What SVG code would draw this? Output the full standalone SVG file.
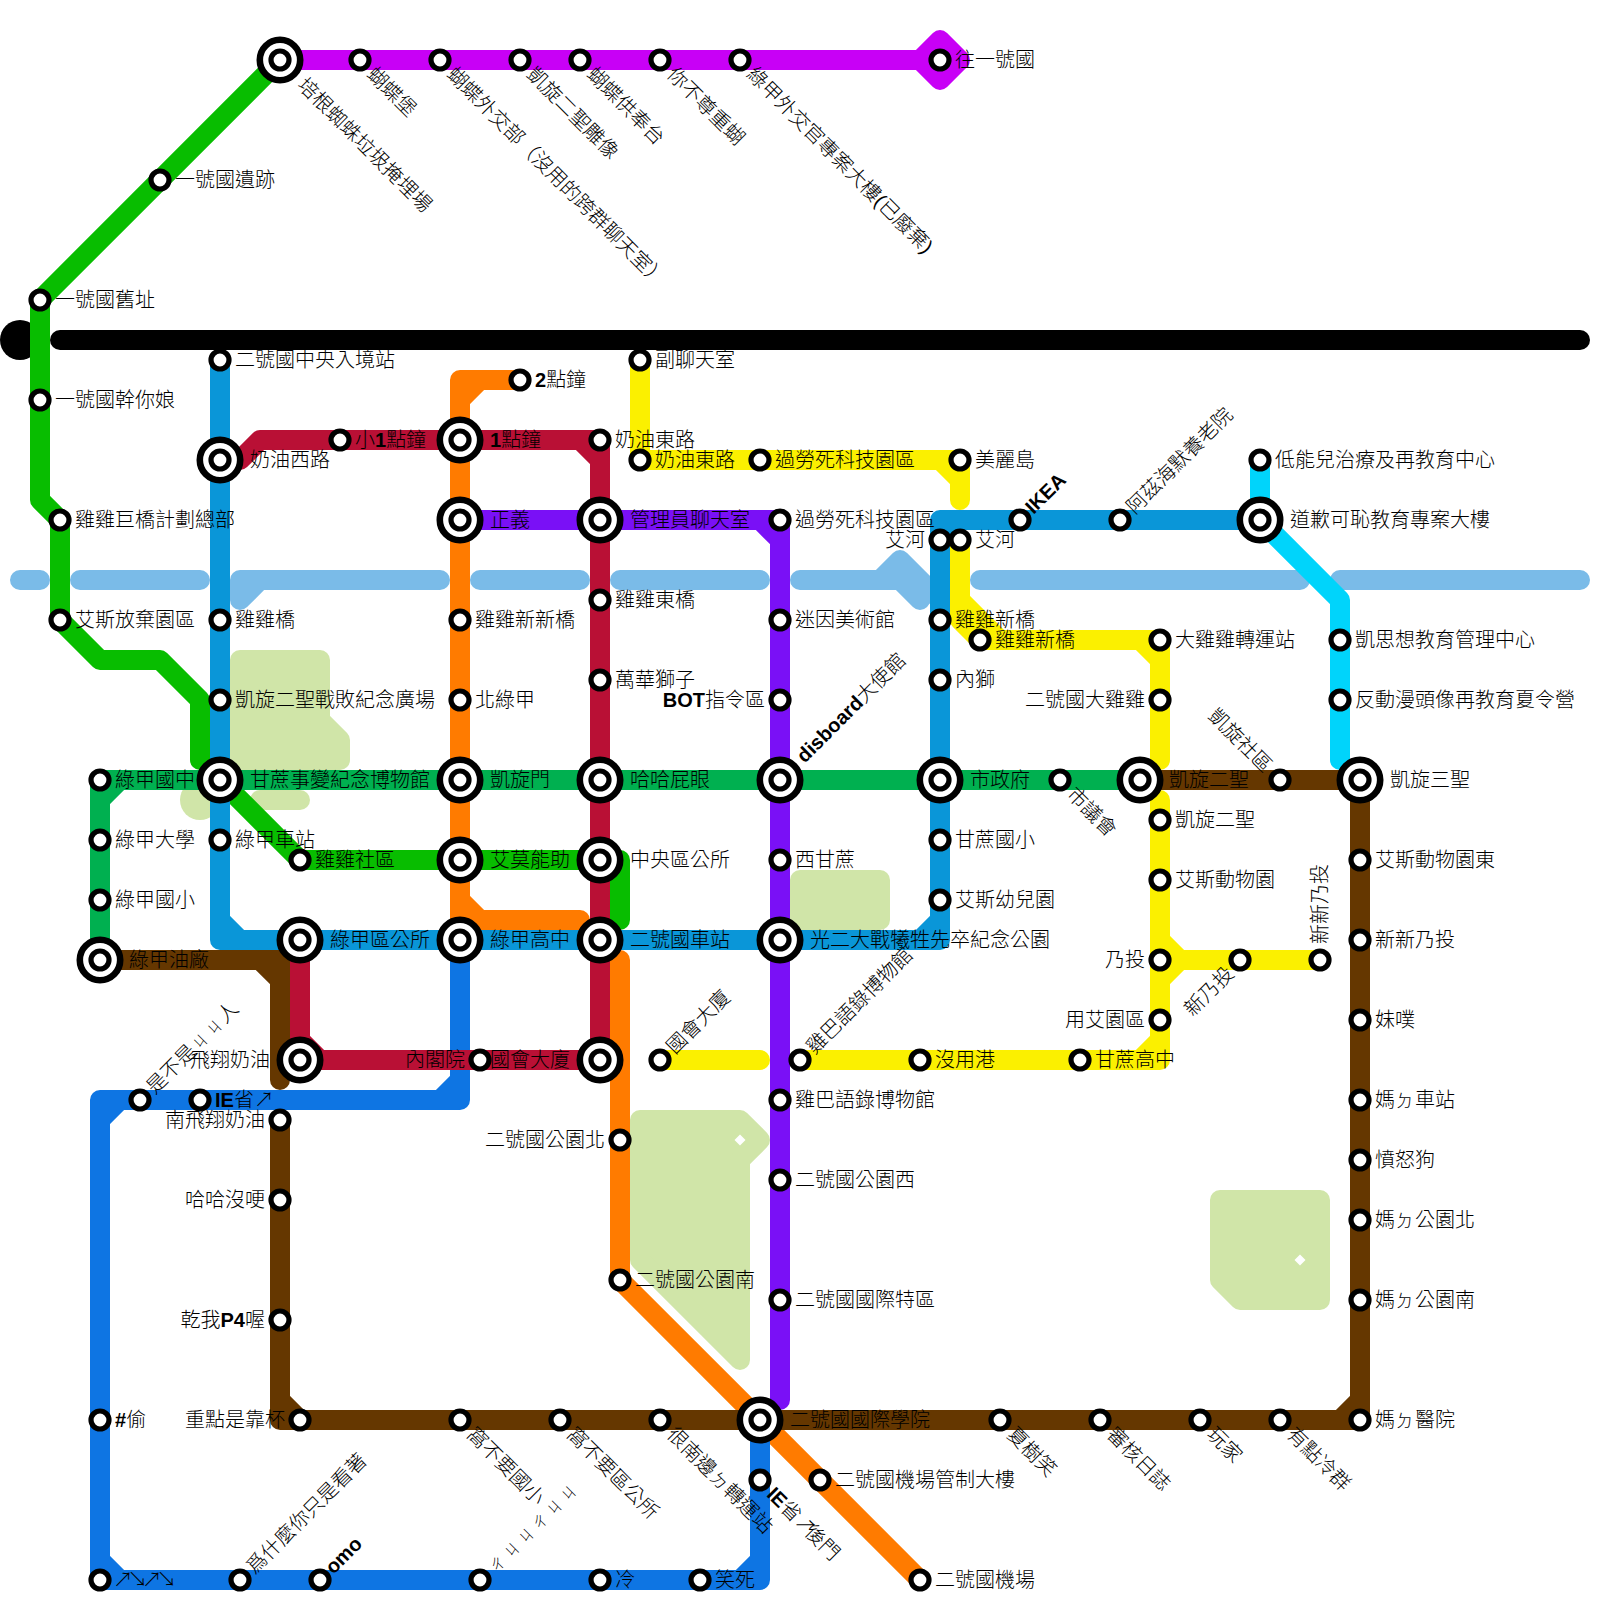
<svg xmlns="http://www.w3.org/2000/svg" width="1600" height="1600" viewBox="0 0 1600 1600">
<style>
text{font-family:"Liberation Sans","Noto Sans CJK TC",sans-serif;font-size:20px;font-weight:300;fill:#000}
.e{text-anchor:end}
.b{font-weight:bold}
.a{letter-spacing:-5.500px}
.l{fill:none;stroke-width:20;stroke-linecap:round;stroke-linejoin:round}
.p{fill:#d0e5a8;stroke:#d0e5a8;stroke-width:20;stroke-linejoin:round}
.o{fill:#fff;stroke:#000;stroke-width:6.6}
.r{fill:#fff;stroke:#000;stroke-width:5.2}
.z{font-size:15px}
.d{font-size:17px}
</style>
<defs>
<g id="s"><circle r="9" class="r"/></g>
<g id="x"><circle r="20.2" class="o"/><circle r="9" class="r"/></g>
</defs>
<rect width="1600" height="1600" fill="#fff"/>
<g id="parks">
<path class="p" d="M240,660H320V720L340,740V760H240Z"/>
<circle cx="200" cy="800" r="20" fill="#d0e5a8"/>
<path class="l" stroke="#d0e5a8" d="M260,800H300"/>
<path class="p" d="M800,880H880V920H800Z"/>
<path class="p" d="M640,1120H740L760,1140L740,1160V1360L640,1260Z"/>
<path fill="#fff" d="M740,1134.500L745.500,1140L740,1145.500L734.500,1140Z"/>
<path class="p" d="M1220,1200H1320V1300H1240L1220,1280Z"/>
<path fill="#fff" d="M1300,1254.500L1305.500,1260L1300,1265.500L1294.500,1260Z"/>
</g>
<g id="river" class="l" stroke="#7abbe8">
<path d="M20,580H40M80,580H200M240,600L260,580M240,600V580H440M480,580H580M620,580H760M800,580H900L920,600M880,580L900,560L940,600M980,580H1300M1340,580H1580"/>
</g>
<g id="connectors" class="l">
<circle cx="20" cy="340" r="20" fill="#000"/>
<path stroke="#000" d="M60,340H1580"/>
<path stroke="#c800f6" d="M280,60H940M940,40L960,60L940,80L920,60Z"/>
<path stroke="#08bd00" d="M280,60L40,300V500L60,520V620L100,660H160L200,700V760H220V780L300,860H620V920H600"/>
<path stroke="#00b050" d="M100,960V800L120,780H1140M100,810V780H130"/>
<path stroke="#ff7b00" d="M520,380H480L460,400V900L480,920H580M490,380H460V410M460,890V920H490M550,920H580V930M620,960V1280L920,1580"/>
<path stroke="#0a96d8" d="M220,360V920L240,940H920L940,920V540L960,520H1260M220,900V940H260M900,940H940V900M940,540V520H970"/>
<path stroke="#0e75e3" d="M460,940V1080L440,1100H120L100,1120V1560L120,1580H740L760,1560V1420M460,1070V1100H430M130,1100H100V1130M100,1550V1580H130M730,1580H760V1550"/>
<path stroke="#653700" d="M100,960H260L280,980V1080M250,960H280V990M280,1120V1400L300,1420H1340L1360,1400V780M280,1390V1420H310M1330,1420H1360V1390M1140,780H1360"/>
<path stroke="#b91035" d="M220,460H240L260,440H580L600,460V1060H320L300,1040V940M570,440H600V470M300,1030V1060H330"/>
<path stroke="#7a10f6" d="M460,520H760L780,540V1400M750,520H780V550"/>
<path stroke="#fbf000" d="M640,360V460H940L960,480V500M930,460H960V490M960,540V620L980,640H1140L1160,660V760M960,600L1000,640M1130,640H1160V670M1160,800V1040L1140,1060H800M1160,1030V1060H1130M1160,940L1180,960H1320M1180,960L1160,980M660,1060H760"/>
<path stroke="#00d4fb" d="M1260,460V520L1340,600V760"/>
</g>
<g id="nodes">
<g id="n1"><use href="#x" x="280" y="60"/><text transform="translate(280,60) rotate(45)" x="30" y="7">培根蜘蛛垃圾掩埋場</text></g>
<g id="n2"><use href="#s" x="360" y="60"/><text transform="translate(360,60) rotate(45)" x="15" y="7">蝴蝶堡</text></g>
<g id="n3"><use href="#s" x="440" y="60"/><text transform="translate(440,60) rotate(45)" x="15" y="7">蝴蝶外交部（沒用的跨群聊天室）</text></g>
<g id="n4"><use href="#s" x="520" y="60"/><text transform="translate(520,60) rotate(45)" x="15" y="7">凱旋二聖雕像</text></g>
<g id="n5"><use href="#s" x="580" y="60"/><text transform="translate(580,60) rotate(45)" x="15" y="7">蝴蝶供奉台</text></g>
<g id="n6"><use href="#s" x="660" y="60"/><text transform="translate(660,60) rotate(45)" x="15" y="7">你不尊重蝴</text></g>
<g id="n7"><use href="#s" x="740" y="60"/><text transform="translate(740,60) rotate(45)" x="15" y="7">綠甲外交官專案大樓(已廢棄)</text></g>
<g id="n8"><use href="#s" x="940" y="60"/><text x="955" y="67">往一號國</text></g>
<g id="n9"><use href="#s" x="160" y="180"/><text x="175" y="187">一號國遺跡</text></g>
<g id="n10"><use href="#s" x="40" y="300"/><text x="55" y="307">一號國舊址</text></g>
<g id="n11"><use href="#s" x="40" y="400"/><text x="55" y="407">一號國幹你娘</text></g>
<g id="n12"><use href="#s" x="60" y="520"/><text x="75" y="527">雞雞巨橋計劃總部</text></g>
<g id="n13"><use href="#s" x="60" y="620"/><text x="75" y="627">艾斯放棄園區</text></g>
<g id="n14"><use href="#s" x="220" y="360"/><text x="235" y="367">二號國中央入境站</text></g>
<g id="n15"><use href="#x" x="220" y="460"/><text x="250" y="467">奶油西路</text></g>
<g id="n16"><use href="#s" x="340" y="440"/><text x="355" y="447">小<tspan class="b">1</tspan>點鐘</text></g>
<g id="n17"><use href="#x" x="460" y="440"/><text x="490" y="447"><tspan class="b">1</tspan>點鐘</text></g>
<g id="n18"><use href="#s" x="520" y="380"/><text x="535" y="387"><tspan class="b">2</tspan>點鐘</text></g>
<g id="n19"><use href="#s" x="640" y="360"/><text x="655" y="367">副聊天室</text></g>
<g id="n20"><use href="#s" x="600" y="440"/><text x="615" y="447">奶油東路</text></g>
<g id="n21"><use href="#s" x="640" y="460"/><text x="655" y="467">奶油東路</text></g>
<g id="n22"><use href="#s" x="760" y="460"/><text x="775" y="467">過勞死科技園區</text></g>
<g id="n23"><use href="#s" x="960" y="460"/><text x="975" y="467">美麗島</text></g>
<g id="n24"><use href="#x" x="460" y="520"/><text x="490" y="527">正義</text></g>
<g id="n25"><use href="#x" x="600" y="520"/><text x="630" y="527">管理員聊天室</text></g>
<g id="n26"><use href="#s" x="780" y="520"/><text x="795" y="527">過勞死科技園區</text></g>
<g id="n27"><use href="#s" x="940" y="540"/><text class="e" x="925" y="547">艾河</text></g>
<g id="n28"><use href="#s" x="960" y="540"/><text x="975" y="547">艾河</text></g>
<g id="n29"><use href="#s" x="1020" y="520"/><text class="b" transform="translate(1020,520) rotate(-45)" x="13" y="6">IKEA</text></g>
<g id="n30"><use href="#s" x="1120" y="520"/><text transform="translate(1120,520) rotate(-45)" x="14" y="7">阿茲海默養老院</text></g>
<g id="n31"><use href="#x" x="1260" y="520"/><text x="1290" y="527">道歉可恥教育專案大樓</text></g>
<g id="n32"><use href="#s" x="1260" y="460"/><text x="1275" y="467">低能兒治療及再教育中心</text></g>
<g id="n33"><use href="#s" x="940" y="620"/><text x="955" y="627">雞雞新橋</text></g>
<g id="n34"><use href="#s" x="980" y="640"/><text x="995" y="647">雞雞新橋</text></g>
<g id="n35"><use href="#s" x="1160" y="640"/><text x="1175" y="647">大雞雞轉運站</text></g>
<g id="n36"><use href="#s" x="1340" y="640"/><text x="1355" y="647">凱思想教育管理中心</text></g>
<g id="n37"><use href="#s" x="1340" y="700"/><text x="1355" y="707">反動漫頭像再教育夏令營</text></g>
<g id="n38"><use href="#s" x="940" y="680"/><text x="955" y="687">內獅</text></g>
<g id="n39"><use href="#s" x="1160" y="700"/><text class="e" x="1145" y="707">二號國大雞雞</text></g>
<g id="n40"><use href="#s" x="780" y="620"/><text x="795" y="627">迷因美術館</text></g>
<g id="n41"><use href="#s" x="780" y="700"/><text class="e" x="765" y="707"><tspan class="b">BOT</tspan>指令區</text></g>
<g id="n42"><use href="#s" x="460" y="620"/><text x="475" y="627">雞雞新新橋</text></g>
<g id="n43"><use href="#s" x="600" y="600"/><text x="615" y="607">雞雞東橋</text></g>
<g id="n44"><use href="#s" x="600" y="680"/><text x="615" y="687">萬華獅子</text></g>
<g id="n45"><use href="#s" x="460" y="700"/><text x="475" y="707">北綠甲</text></g>
<g id="n46"><use href="#s" x="220" y="620"/><text x="235" y="627">雞雞橋</text></g>
<g id="n47"><use href="#s" x="220" y="700"/><text x="235" y="707">凱旋二聖戰敗紀念廣場</text></g>
<g id="n48"><use href="#s" x="100" y="780"/><text x="115" y="787">綠甲國中</text></g>
<g id="n49"><use href="#x" x="220" y="780"/><text x="250" y="787">甘蔗事變紀念博物館</text></g>
<g id="n50"><use href="#x" x="460" y="780"/><text x="490" y="787">凱旋門</text></g>
<g id="n51"><use href="#x" x="600" y="780"/><text x="630" y="787">哈哈屁眼</text></g>
<g id="n52"><use href="#x" x="780" y="780"/><text transform="translate(780,780) rotate(-45)" x="29" y="6"><tspan class="b">disboard</tspan>大使館</text></g>
<g id="n53"><use href="#x" x="940" y="780"/><text x="970" y="787">市政府</text></g>
<g id="n54"><use href="#s" x="1060" y="780"/><text transform="translate(1060,780) rotate(45)" x="15" y="7">市議會</text></g>
<g id="n55"><use href="#x" x="1140" y="780"/><text x="1169" y="787">凱旋二聖</text></g>
<g id="n56"><use href="#s" x="1280" y="780"/><text class="e" transform="translate(1280,780) rotate(45)" x="-16" y="7">凱旋社區</text></g>
<g id="n57"><use href="#x" x="1360" y="780"/><text x="1390" y="787">凱旋三聖</text></g>
<g id="n58"><use href="#s" x="100" y="840"/><text x="115" y="847">綠甲大學</text></g>
<g id="n59"><use href="#s" x="100" y="900"/><text x="115" y="907">綠甲國小</text></g>
<g id="n60"><use href="#s" x="220" y="840"/><text x="235" y="847">綠甲車站</text></g>
<g id="n61"><use href="#s" x="300" y="860"/><text x="315" y="867">雞雞社區</text></g>
<g id="n62"><use href="#x" x="460" y="860"/><text x="490" y="867">艾莫能助</text></g>
<g id="n63"><use href="#x" x="600" y="860"/><text x="630" y="867">中央區公所</text></g>
<g id="n64"><use href="#s" x="780" y="860"/><text x="795" y="867">西甘蔗</text></g>
<g id="n65"><use href="#s" x="940" y="840"/><text x="955" y="847">甘蔗國小</text></g>
<g id="n66"><use href="#s" x="940" y="900"/><text x="955" y="907">艾斯幼兒園</text></g>
<g id="n67"><use href="#s" x="1160" y="820"/><text x="1175" y="827">凱旋二聖</text></g>
<g id="n68"><use href="#s" x="1160" y="880"/><text x="1175" y="887">艾斯動物園</text></g>
<g id="n69"><use href="#s" x="1160" y="960"/><text class="e" x="1145" y="967">乃投</text></g>
<g id="n70"><use href="#s" x="1160" y="1020"/><text class="e" x="1145" y="1027">用艾園區</text></g>
<g id="n71"><use href="#s" x="1240" y="960"/><text class="e" transform="translate(1240,960) rotate(-45)" x="-14" y="7">新乃投</text></g>
<g id="n72"><use href="#s" x="1320" y="960"/><text transform="translate(1320,960) rotate(-90)" x="16" y="7">新新乃投</text></g>
<g id="n73"><use href="#x" x="100" y="960"/><text x="129" y="967">綠甲油廠</text></g>
<g id="n74"><use href="#x" x="300" y="940"/><text x="330" y="947">綠甲區公所</text></g>
<g id="n75"><use href="#x" x="460" y="940"/><text x="490" y="947">綠甲高中</text></g>
<g id="n76"><use href="#x" x="600" y="940"/><text x="630" y="947">二號國車站</text></g>
<g id="n77"><use href="#x" x="780" y="940"/><text x="810" y="947">光二大戰犧牲先卒紀念公園</text></g>
<g id="n78"><use href="#x" x="300" y="1060"/><text class="e" x="270" y="1067">飛翔奶油</text></g>
<g id="n79"><use href="#s" x="480" y="1060"/><text class="e" x="465" y="1067">內閣院</text></g>
<g id="n80"><use href="#x" x="600" y="1060"/><text class="e" x="570" y="1067">國會大廈</text></g>
<g id="n81"><use href="#s" x="660" y="1060"/><text transform="translate(660,1060) rotate(-45)" x="14" y="7">國會大廈</text></g>
<g id="n82"><use href="#s" x="800" y="1060"/><text transform="translate(800,1060) rotate(-45)" x="14" y="7">雞巴語錄博物館</text></g>
<g id="n83"><use href="#s" x="920" y="1060"/><text x="935" y="1067">沒用港</text></g>
<g id="n84"><use href="#s" x="1080" y="1060"/><text x="1095" y="1067">甘蔗高中</text></g>
<g id="n85"><use href="#s" x="780" y="1100"/><text x="795" y="1107">雞巴語錄博物館</text></g>
<g id="n86"><use href="#s" x="780" y="1180"/><text x="795" y="1187">二號國公園西</text></g>
<g id="n87"><use href="#s" x="780" y="1300"/><text x="795" y="1307">二號國國際特區</text></g>
<g id="n88"><use href="#s" x="620" y="1140"/><text class="e" x="605" y="1147">二號國公園北</text></g>
<g id="n89"><use href="#s" x="620" y="1280"/><text x="635" y="1287">二號國公園南</text></g>
<g id="n90"><use href="#s" x="140" y="1100"/><text transform="translate(140,1100) rotate(-45)" x="14" y="7">是不是<tspan class="z" dx="2.500">ㄐ</tspan><tspan class="z" dx="5">ㄐ</tspan><tspan dx="2.500">人</tspan></text></g>
<g id="n91"><use href="#s" x="200" y="1100"/><text x="215" y="1107"><tspan class="b">IE</tspan>省<tspan class="a">↗</tspan></text></g>
<g id="n92"><use href="#s" x="280" y="1120"/><text class="e" x="265" y="1127">南飛翔奶油</text></g>
<g id="n93"><use href="#s" x="280" y="1200"/><text class="e" x="265" y="1207">哈哈沒哽</text></g>
<g id="n94"><use href="#s" x="280" y="1320"/><text class="e" x="265" y="1327">乾我<tspan class="b">P4</tspan>喔</text></g>
<g id="n95"><use href="#s" x="300" y="1420"/><text class="e" x="285" y="1427">重點是靠杯</text></g>
<g id="n96"><use href="#s" x="100" y="1420"/><text x="115" y="1427"><tspan class="b">#</tspan>偷</text></g>
<g id="n97"><use href="#s" x="100" y="1580"/><text x="113" y="1587"><tspan class="a">↗↘↗↘</tspan></text></g>
<g id="n98"><use href="#s" x="240" y="1580"/><text transform="translate(240,1580) rotate(-45)" x="14" y="7">爲什麼你只是看著</text></g>
<g id="n99"><use href="#s" x="320" y="1580"/><text class="b" transform="translate(320,1580) rotate(-45)" x="13" y="6">omo</text></g>
<g id="n100"><use href="#s" x="480" y="1580"/><text transform="translate(480,1580) rotate(-45)" x="14" y="7"><tspan class="z" dx="2.500">ㄔ</tspan><tspan class="z" dx="5">ㄐ</tspan><tspan class="z" dx="5">ㄐ</tspan><tspan class="z" dx="5">ㄔ</tspan><tspan class="z" dx="5">ㄐ</tspan><tspan class="z" dx="5">ㄐ</tspan></text></g>
<g id="n101"><use href="#s" x="600" y="1580"/><text x="615" y="1587">冷</text></g>
<g id="n102"><use href="#s" x="700" y="1580"/><text x="715" y="1587">笑死</text></g>
<g id="n103"><use href="#s" x="760" y="1480"/><text transform="translate(760,1480) rotate(45)" x="15" y="7"><tspan class="b">IE</tspan>省<tspan class="a">↗</tspan>後門</text></g>
<g id="n104"><use href="#s" x="820" y="1480"/><text x="835" y="1487">二號國機場管制大樓</text></g>
<g id="n105"><use href="#s" x="920" y="1580"/><text x="935" y="1587">二號國機場</text></g>
<g id="n106"><use href="#x" x="760" y="1420"/><text x="790" y="1427">二號國國際學院</text></g>
<g id="n107"><use href="#s" x="460" y="1420"/><text transform="translate(460,1420) rotate(45)" x="15" y="7">窩不要國小</text></g>
<g id="n108"><use href="#s" x="560" y="1420"/><text transform="translate(560,1420) rotate(45)" x="15" y="7">窩不要區公所</text></g>
<g id="n109"><use href="#s" x="660" y="1420"/><text transform="translate(660,1420) rotate(45)" x="15" y="7">很南邊<tspan class="d" dx="1">ㄉ</tspan><tspan dx="2">轉運站</tspan></text></g>
<g id="n110"><use href="#s" x="1000" y="1420"/><text transform="translate(1000,1420) rotate(45)" x="15" y="7">夏樹笑</text></g>
<g id="n111"><use href="#s" x="1100" y="1420"/><text transform="translate(1100,1420) rotate(45)" x="15" y="7">審核日誌</text></g>
<g id="n112"><use href="#s" x="1200" y="1420"/><text transform="translate(1200,1420) rotate(45)" x="15" y="7">玩家</text></g>
<g id="n113"><use href="#s" x="1280" y="1420"/><text transform="translate(1280,1420) rotate(45)" x="15" y="7">有點冷群</text></g>
<g id="n114"><use href="#s" x="1360" y="860"/><text x="1375" y="867">艾斯動物園東</text></g>
<g id="n115"><use href="#s" x="1360" y="940"/><text x="1375" y="947">新新乃投</text></g>
<g id="n116"><use href="#s" x="1360" y="1020"/><text x="1375" y="1027">妹噗</text></g>
<g id="n117"><use href="#s" x="1360" y="1100"/><text x="1375" y="1107">媽<tspan class="d" dx="1">ㄉ</tspan><tspan dx="2">車站</tspan></text></g>
<g id="n118"><use href="#s" x="1360" y="1160"/><text x="1375" y="1167">憤怒狗</text></g>
<g id="n119"><use href="#s" x="1360" y="1220"/><text x="1375" y="1227">媽<tspan class="d" dx="1">ㄉ</tspan><tspan dx="2">公園北</tspan></text></g>
<g id="n120"><use href="#s" x="1360" y="1300"/><text x="1375" y="1307">媽<tspan class="d" dx="1">ㄉ</tspan><tspan dx="2">公園南</tspan></text></g>
<g id="n121"><use href="#s" x="1360" y="1420"/><text x="1375" y="1427">媽<tspan class="d" dx="1">ㄉ</tspan><tspan dx="2">醫院</tspan></text></g>
</g>
</svg>
